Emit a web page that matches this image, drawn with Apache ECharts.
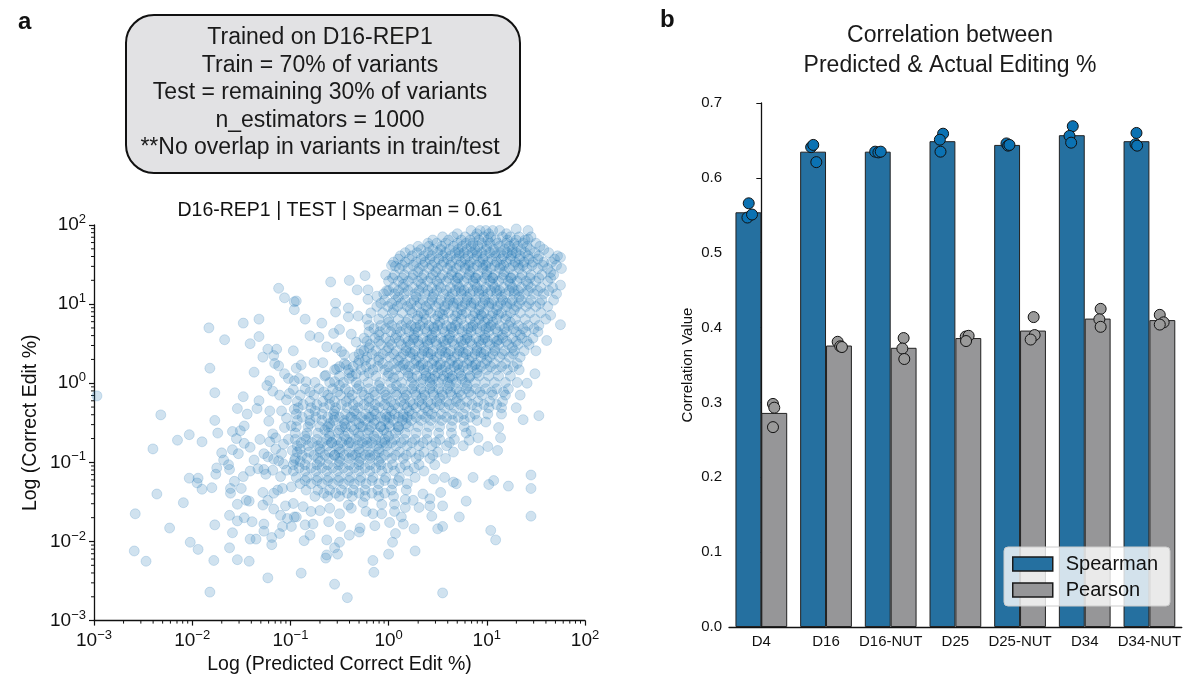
<!DOCTYPE html>
<html lang="en">
<head>
  <meta charset="UTF-8">
  <title>Edit prediction</title>
  <script src="https://cdn.jsdelivr.net/npm/echarts@6/dist/echarts.min.js"></script>
</head>
<body style="margin:0;background:#fff">
  <div id="chart" style="width: 1184px;height: 680px;"></div>
  <script>
    const myEcharts = echarts.init(document.getElementById('chart'))
    const FONT = 'Liberation Sans, Arial, Helvetica, sans-serif'

    // ---- panel a : log10(predicted), log10(actual) ----
    // dense cloud, one row per log10(actual) level: [ly, lx, lx, ...]
    const cloudRows = [
      [1.93, 0.84, 0.93, 0.99, 1.06, 1.13, 1.42],
      [1.85, 0.55, 0.66, 0.78, 0.88, 0.97, 1.04, 1.16, 1.24, 1.33, 1.45],
      [1.77, 0.40, 0.49, 0.58, 0.70, 0.79, 0.86, 0.95, 1.03, 1.11, 1.20, 1.28, 1.37, 1.50],
      [1.69, 0.22, 0.33, 0.45, 0.53, 0.62, 0.71, 0.80, 0.88, 0.99, 1.07, 1.18, 1.26, 1.35, 1.44, 1.58],
      [1.61, 0.12, 0.24, 0.36, 0.44, 0.55, 0.63, 0.72, 0.81, 0.90, 0.98, 1.09, 1.17, 1.25, 1.34, 1.42, 1.53, 1.72],
      [1.53, 0.05, 0.17, 0.28, 0.37, 0.47, 0.56, 0.64, 0.74, 0.83, 0.93, 1.01, 1.10, 1.20, 1.29, 1.38, 1.47, 1.58, 1.66],
      [1.45, 0.11, 0.20, 0.31, 0.41, 0.50, 0.60, 0.69, 0.78, 0.86, 0.96, 1.04, 1.13, 1.23, 1.33, 1.41, 1.52, 1.62, 1.76],
      [1.37, 0.06, 0.16, 0.25, 0.36, 0.45, 0.55, 0.64, 0.73, 0.82, 0.91, 1.00, 1.08, 1.17, 1.27, 1.36, 1.45, 1.56, 1.68],
      [1.29, 0.00, 0.10, 0.20, 0.30, 0.40, 0.49, 0.59, 0.68, 0.77, 0.86, 0.95, 1.03, 1.12, 1.22, 1.31, 1.40, 1.50, 1.62],
      [1.21, 0.05, 0.15, 0.25, 0.35, 0.44, 0.53, 0.63, 0.72, 0.81, 0.90, 0.99, 1.08, 1.17, 1.26, 1.35, 1.45, 1.55, 1.67],
      [1.13, -0.05, 0.06, 0.16, 0.27, 0.37, 0.46, 0.56, 0.65, 0.74, 0.83, 0.92, 1.01, 1.10, 1.19, 1.28, 1.38, 1.48, 1.58, 1.71],
      [1.05, -0.04, 0.07, 0.17, 0.26, 0.35, 0.44, 0.53, 0.62, 0.71, 0.80, 0.89, 0.98, 1.07, 1.16, 1.26, 1.35, 1.45, 1.56, 1.68],
      [0.97, -0.12, -0.01, 0.09, 0.19, 0.29, 0.38, 0.48, 0.57, 0.66, 0.75, 0.84, 0.93, 1.02, 1.11, 1.20, 1.30, 1.40, 1.50, 1.62],
      [0.89, -0.18, -0.06, 0.04, 0.14, 0.24, 0.33, 0.43, 0.52, 0.61, 0.70, 0.79, 0.88, 0.97, 1.06, 1.15, 1.24, 1.34, 1.44, 1.55],
      [0.81, -0.22, -0.10, 0.00, 0.10, 0.20, 0.29, 0.38, 0.47, 0.56, 0.65, 0.74, 0.83, 0.92, 1.01, 1.10, 1.19, 1.29, 1.39, 1.49, 1.60],
      [0.73, -0.20, -0.08, 0.03, 0.13, 0.23, 0.32, 0.41, 0.50, 0.59, 0.68, 0.77, 0.86, 0.95, 1.04, 1.13, 1.22, 1.32, 1.42, 1.53],
      [0.65, -0.20, -0.09, 0.02, 0.12, 0.21, 0.30, 0.39, 0.48, 0.57, 0.66, 0.75, 0.84, 0.93, 1.02, 1.11, 1.20, 1.30, 1.40, 1.52],
      [0.57, -0.25, -0.14, -0.03, 0.07, 0.17, 0.26, 0.35, 0.44, 0.53, 0.62, 0.71, 0.80, 0.89, 0.98, 1.07, 1.16, 1.26, 1.36, 1.47],
      [0.49, -0.19, -0.08, 0.03, 0.13, 0.22, 0.31, 0.40, 0.49, 0.58, 0.67, 0.76, 0.85, 0.94, 1.03, 1.12, 1.22, 1.32, 1.43],
      [0.41, -0.25, -0.13, -0.02, 0.08, 0.18, 0.27, 0.36, 0.45, 0.54, 0.63, 0.72, 0.81, 0.90, 0.99, 1.08, 1.18, 1.28, 1.38, 1.50],
      [0.33, -0.35, -0.22, -0.10, 0.01, 0.12, 0.22, 0.31, 0.40, 0.49, 0.58, 0.67, 0.76, 0.85, 0.94, 1.03, 1.13, 1.23, 1.34],
      [0.25, -0.45, -0.31, -0.18, -0.06, 0.05, 0.16, 0.26, 0.35, 0.44, 0.53, 0.62, 0.71, 0.80, 0.89, 0.98, 1.08, 1.19, 1.31],
      [0.17, -0.55, -0.41, -0.28, -0.16, -0.04, 0.07, 0.17, 0.27, 0.36, 0.45, 0.54, 0.63, 0.72, 0.81, 0.90, 1.00, 1.10, 1.21, 1.33],
      [0.09, -0.65, -0.50, -0.37, -0.25, -0.13, -0.01, 0.10, 0.20, 0.29, 0.38, 0.47, 0.56, 0.65, 0.74, 0.83, 0.92, 1.02, 1.12, 1.24],
      [0.01, -0.75, -0.60, -0.46, -0.33, -0.21, -0.09, 0.02, 0.13, 0.23, 0.33, 0.42, 0.51, 0.60, 0.69, 0.78, 0.88, 0.98, 1.08, 1.19, 1.31],
      [-0.07, -0.85, -0.71, -0.57, -0.44, -0.32, -0.20, -0.08, 0.03, 0.14, 0.24, 0.33, 0.42, 0.51, 0.60, 0.69, 0.79, 0.89, 0.99, 1.10, 1.22],
      [-0.15, -0.90, -0.76, -0.62, -0.49, -0.37, -0.25, -0.14, -0.03, 0.08, 0.18, 0.28, 0.37, 0.46, 0.55, 0.64, 0.74, 0.84, 0.95, 1.06, 1.19, 1.34],
      [-0.23, -0.93, -0.80, -0.67, -0.55, -0.43, -0.31, -0.20, -0.09, 0.02, 0.12, 0.22, 0.31, 0.40, 0.49, 0.59, 0.69, 0.80, 0.91, 1.03, 1.16],
      [-0.31, -0.92, -0.79, -0.66, -0.54, -0.42, -0.31, -0.20, -0.10, 0.00, 0.10, 0.19, 0.28, 0.37, 0.47, 0.57, 0.67, 0.78, 0.90, 1.02, 1.15, 1.30],
      [-0.39, -0.94, -0.81, -0.68, -0.56, -0.44, -0.33, -0.23, -0.13, -0.03, 0.06, 0.15, 0.24, 0.34, 0.44, 0.54, 0.65, 0.76, 0.88, 1.01, 1.15],
      [-0.47, -0.93, -0.80, -0.68, -0.56, -0.45, -0.34, -0.24, -0.14, -0.04, 0.05, 0.14, 0.23, 0.33, 0.43, 0.54, 0.65, 0.77, 0.90],
      [-0.55, -0.94, -0.82, -0.70, -0.59, -0.48, -0.38, -0.28, -0.18, -0.08, 0.01, 0.10, 0.20, 0.30, 0.41, 0.52, 0.64, 0.77],
      [-0.63, -0.95, -0.83, -0.72, -0.61, -0.51, -0.41, -0.31, -0.21, -0.11, -0.02, 0.07, 0.17, 0.28, 0.39, 0.51, 0.64, 0.79],
      [-0.71, -0.95, -0.84, -0.73, -0.63, -0.53, -0.43, -0.33, -0.23, -0.13, -0.04, 0.06, 0.16, 0.27, 0.39, 0.52, 0.67],
      [-0.79, -0.93, -0.82, -0.72, -0.62, -0.52, -0.42, -0.32, -0.22, -0.12, -0.02, 0.08, 0.19, 0.31, 0.44, 0.59, 0.76],
      [-0.87, -0.93, -0.81, -0.70, -0.60, -0.50, -0.40, -0.30, -0.20, -0.10, 0.00, 0.11, 0.23, 0.36, 0.50, 0.66],
      [-0.95, -0.95, -0.83, -0.72, -0.61, -0.50, -0.40, -0.29, -0.19, -0.08, 0.03, 0.15, 0.28, 0.42, 0.58],
      [-1.03, -0.97, -0.85, -0.73, -0.62, -0.51, -0.40, -0.30, -0.19, -0.08, 0.04, 0.17, 0.31, 0.47],
      [-1.11, -0.97, -0.85, -0.74, -0.63, -0.52, -0.41, -0.30, -0.19, -0.07, 0.06, 0.20, 0.36],
      [-1.19, -0.94, -0.83, -0.72, -0.61, -0.50, -0.39, -0.28, -0.16, -0.03, 0.11, 0.27],
      [-1.27, -0.90, -0.79, -0.68, -0.57, -0.46, -0.35, -0.23, -0.10, 0.04, 0.19],
      [-1.35, -0.84, -0.72, -0.60, -0.48, -0.36, -0.24, -0.11, 0.03, 0.18],
      [-1.43, -0.75, -0.62, -0.50, -0.37, -0.24, -0.10, 0.05]
    ]
    // in-between rows, placed off the main rows
    const fillRows = [
      [1.89, 0.70, 0.90, 1.02, 1.20],
      [1.81, 0.45, 0.61, 0.74, 0.83, 0.92, 1.01, 1.09, 1.21, 1.30, 1.39],
      [1.73, 0.30, 0.41, 0.54, 0.66, 0.75, 0.84, 0.91, 1.00, 1.13, 1.23, 1.31, 1.41, 1.54],
      [1.65, 0.17, 0.29, 0.40, 0.50, 0.58, 0.68, 0.77, 0.85, 0.95, 1.03, 1.14, 1.21, 1.30, 1.39, 1.49, 1.63],
      [1.57, 0.10, 0.21, 0.33, 0.42, 0.51, 0.60, 0.69, 0.78, 0.87, 0.96, 1.05, 1.15, 1.24, 1.33, 1.43, 1.52, 1.69],
      [1.49, 0.03, 0.14, 0.25, 0.35, 0.44, 0.54, 0.63, 0.72, 0.82, 0.90, 0.99, 1.08, 1.17, 1.27, 1.37, 1.46, 1.57, 1.71],
      [1.33, 0.04, 0.14, 0.24, 0.34, 0.43, 0.53, 0.61, 0.71, 0.80, 0.89, 0.98, 1.06, 1.16, 1.25, 1.34, 1.44, 1.53, 1.65],
      [1.17, 0.00, 0.10, 0.20, 0.31, 0.40, 0.49, 0.59, 0.68, 0.77, 0.86, 0.96, 1.04, 1.13, 1.23, 1.32, 1.42, 1.52, 1.63],
      [1.01, -0.08, 0.03, 0.13, 0.23, 0.32, 0.42, 0.51, 0.60, 0.70, 0.78, 0.87, 0.96, 1.05, 1.14, 1.24, 1.33, 1.43, 1.54],
      [0.69, -0.15, -0.03, 0.08, 0.18, 0.27, 0.37, 0.46, 0.55, 0.64, 0.72, 0.81, 0.90, 0.99, 1.09, 1.18, 1.27, 1.37, 1.48],
      [0.53, -0.22, -0.10, 0.01, 0.11, 0.20, 0.30, 0.39, 0.48, 0.56, 0.65, 0.74, 0.83, 0.92, 1.01, 1.10, 1.20, 1.30, 1.41],
      [0.37, -0.30, -0.17, -0.06, 0.05, 0.15, 0.25, 0.34, 0.43, 0.52, 0.61, 0.70, 0.79, 0.88, 0.97, 1.06, 1.16, 1.27],
      [0.21, -0.50, -0.36, -0.23, -0.11, 0.00, 0.11, 0.21, 0.31, 0.40, 0.49, 0.58, 0.67, 0.76, 0.85, 0.94, 1.04, 1.15, 1.27],
      [-0.11, -0.80, -0.66, -0.52, -0.40, -0.27, -0.15, -0.04, 0.07, 0.17, 0.27, 0.36, 0.45, 0.54, 0.63, 0.72, 0.82, 0.93, 1.05, 1.17],
      [-0.27, -0.87, -0.73, -0.60, -0.48, -0.36, -0.25, -0.14, -0.04, 0.06, 0.16, 0.25, 0.34, 0.43, 0.52, 0.62, 0.73, 0.85, 0.97, 1.10],
      [-0.43, -0.88, -0.74, -0.62, -0.50, -0.39, -0.28, -0.18, -0.08, 0.01, 0.10, 0.19, 0.28, 0.38, 0.48, 0.59, 0.71, 0.83],
      [-0.75, -0.89, -0.78, -0.68, -0.58, -0.48, -0.38, -0.27, -0.17, -0.07, 0.03, 0.13, 0.24, 0.35, 0.48, 0.62],
      [-0.91, -0.88, -0.76, -0.65, -0.55, -0.45, -0.34, -0.24, -0.14, -0.04, 0.07, 0.18, 0.31, 0.45],
      [-1.07, -0.91, -0.79, -0.68, -0.57, -0.46, -0.35, -0.24, -0.13, -0.01, 0.12, 0.26],
      [-1.23, -0.85, -0.73, -0.62, -0.51, -0.40, -0.29, -0.17, -0.04, 0.10],
      [-1.39, -0.66, -0.54, -0.42, -0.30, -0.17, -0.04]
    ]
    // extra overlapping points where the cloud is darkest
    const coreRows = [
      [1.41, 0.30, 0.48, 0.65, 0.83, 1.00, 1.18],
      [1.25, 0.15, 0.33, 0.51, 0.70, 0.88, 1.06, 1.24, 1.42],
      [1.09, 0.10, 0.28, 0.45, 0.62, 0.80, 0.97, 1.15, 1.33],
      [0.93, 0.05, 0.22, 0.40, 0.57, 0.74, 0.92, 1.10, 1.28],
      [0.85, 0.30, 0.50, 0.68, 0.86, 0.95, 1.05, 1.20],
      [0.77, 0.00, 0.18, 0.35, 0.52, 0.70, 0.88, 0.98, 1.06, 1.24],
      [0.61, -0.10, 0.08, 0.26, 0.44, 0.62, 0.80, 0.98, 1.16, 1.34],
      [0.45, -0.20, 0.00, 0.18, 0.36, 0.54, 0.72, 0.90, 1.08, 1.26],
      [0.29, -0.30, -0.10, 0.10, 0.28, 0.46, 0.64, 0.82, 1.00],
      [0.13, -0.40, -0.20, 0.00, 0.20, 0.38, 0.50, 0.60, 0.72, 0.90],
      [0.05, 0.35, 0.45, 0.55, 0.65, 0.75],
      [-0.03, -0.50, -0.30, -0.10, 0.08, 0.26, 0.44, 0.62, 0.80],
      [-0.19, -0.60, -0.40, -0.20, -0.02, 0.16, 0.34, 0.52, 0.70],
      [-0.35, -0.75, -0.55, -0.35, -0.15, 0.03, 0.21, 0.40],
      [-0.51, -0.80, -0.60, -0.45, -0.30, -0.15, 0.00, 0.18],
      [-0.59, -0.65, -0.50, -0.35, -0.20, -0.05, 0.10],
      [-0.67, -0.85, -0.60, -0.45, -0.30, -0.15, 0.00],
      [-0.83, -0.90, -0.70, -0.50, -0.30, -0.10],
      [-0.99, -0.90, -0.70, -0.50, -0.30, -0.10],
      [0.87, 0.36, 0.55, 0.75, 0.94, 1.12],
      [0.71, 0.28, 0.46, 0.64, 0.84, 1.02],
      [0.55, 0.25, 0.42, 0.60, 0.78, 0.96, 1.12],
      [0.39, 0.22, 0.40, 0.58, 0.76, 0.94],
      [0.23, 0.15, 0.33, 0.52, 0.70, 0.88],
      [0.07, 0.05, 0.24, 0.42, 0.62, 0.82],
      [-0.43, -0.55, -0.38, -0.20, -0.02, 0.15],
      [-0.55, -0.62, -0.44, -0.26, -0.08, 0.10],
      [-0.75, -0.58, -0.40, -0.22, -0.04],
      [-0.91, -0.55, -0.37, -0.19],
      [1.65, 0.72, 0.90, 1.08, 1.26],
      [1.49, 0.78, 0.96, 1.14, 1.32],
      [1.33, 0.70, 0.88, 1.06, 1.24],
      [1.17, 0.74, 0.92, 1.10, 1.28],
      [1.01, 0.66, 0.84, 1.02, 1.20]
    ]
    // scattered points around the cloud: [lx, ly]
    const sparsePts = [
      [-2.97, -0.16], [-2.32, -0.40], [-1.83, 0.70], [-1.48, 0.76], [-1.32, 0.81], [-1.67, 0.55], [-1.32, 0.59],
      [-1.41, 0.50], [-1.12, 1.20], [-1.06, 1.08], [-0.96, 1.03], [-0.96, 0.93], [-1.82, 0.19], [-1.77, -0.12],
      [-1.48, -0.17], [-1.37, 0.14], [-1.28, 0.33], [-1.23, 0.43], [-1.14, 0.43], [-1.17, 0.35], [-1.16, 0.25],
      [-1.12, 0.22], [-0.97, 0.41], [-1.06, 0.12], [-1.02, 0.06], [-0.96, 0.03], [-1.21, 0.03], [-1.24, -0.03],
      [-1.18, -0.10], [-1.11, -0.15], [-1.04, -0.21], [-1.01, -0.13], [-0.97, -0.08], [-0.94, 0.19], [-1.32, -0.22],
      [-1.34, -0.32], [-1.44, -0.39], [-1.54, -0.32], [-1.21, -0.35], [-1.09, -0.35], [-0.96, -0.33], [-1.04, -0.44],
      [-1.77, -0.47],
      [-2.40, -0.83], [-2.15, -0.72], [-2.03, -0.65], [-1.90, -0.74], [-1.74, -0.63], [-1.59, -0.61], [-1.51, -0.60],
      [-1.47, -0.54], [-1.55, -0.70], [-1.47, -0.76], [-1.41, -0.81], [-1.59, -0.84], [-1.70, -0.88], [-1.53, -0.89],
      [-1.68, -0.97], [-1.63, -1.03], [-1.75, -1.07], [-1.62, -1.09], [-1.76, -1.15], [-1.37, -0.97], [-1.31, -0.71],
      [-1.21, -0.74], [-1.18, -0.64], [-1.15, -0.69], [-1.22, -0.48], [-1.33, -1.08], [-1.27, -1.09], [-1.25, -1.15],
      [-1.18, -1.10], [-1.23, -0.93], [-1.27, -0.89], [-1.17, -0.96], [-1.12, -0.98], [-1.09, -0.89], [-1.07, -1.02],
      [-1.04, -1.10], [-1.10, -1.18], [-0.98, -0.85], [-0.96, -0.98], [-1.15, -0.83], [-1.07, -0.77], [-1.02, -0.71],
      [-1.06, -0.56], [-0.99, -0.54], [-2.03, -1.20], [-1.94, -1.20], [-1.95, -1.26], [-1.90, -1.34], [-1.80, -1.32],
      [-2.36, -1.40], [-2.09, -1.51], [-2.58, -1.65], [-2.23, -1.83], [-2.59, -2.12], [-2.47, -2.25], [-2.02, -2.01],
      [-1.94, -2.10], [-1.78, -2.24], [-1.82, -2.64], [-1.77, -1.79], [-1.62, -2.08], [-1.59, -1.89], [-1.62, -1.67],
      [-1.54, -1.74], [-1.47, -1.70], [-1.39, -1.75], [-1.54, -1.53], [-1.45, -1.48], [-1.42, -1.49], [-1.61, -1.39],
      [-1.61, -1.33], [-1.50, -1.33], [-1.57, -1.24], [-1.48, -1.18], [-1.41, -1.11], [-1.54, -2.23], [-1.42, -2.25],
      [-1.41, -1.97], [-1.35, -1.97], [-1.27, -1.78], [-1.27, -1.87], [-1.19, -2.04], [-1.19, -1.95], [-1.11, -1.90],
      [-1.08, -1.81], [-1.23, -2.46], [-1.28, -1.38], [-1.28, -1.54], [-1.23, -1.48], [-1.17, -1.59], [-1.10, -1.67],
      [-1.03, -1.71], [-0.99, -1.81], [-1.13, -1.35], [-1.08, -1.33], [-0.99, -1.31], [-1.05, -1.55], [-0.97, -1.52],
      [-0.96, -1.69], [-1.17, -1.39],
      [-0.89, -2.40], [-0.55, -2.54], [-0.42, -2.71], [-0.64, -2.21], [-0.63, -2.17], [-0.52, -2.16], [-0.55, -2.08],
      [-0.50, -2.01], [-0.63, -1.98], [-0.86, -1.99], [-0.80, -1.92], [-0.16, -2.24], [-0.15, -2.39], [0.00, -2.16],
      [0.04, -2.01], [0.27, -2.12], [0.07, -1.90], [0.26, -1.84], [0.55, -2.65], [0.50, -1.84], [0.55, -1.81],
      [0.72, -1.69], [0.79, -1.49], [1.04, -1.86], [1.09, -1.98], [0.86, -1.19], [1.02, -1.28], [1.07, -1.23],
      [1.22, -1.30], [-0.40, -1.92], [-0.29, -1.83], [-0.30, -1.88], [-0.49, -1.81], [-0.14, -1.80], [0.01, -1.76],
      [0.15, -1.78], [0.13, -1.69], [-0.61, -1.75], [-0.77, -1.78], [-0.85, -1.79], [0.44, -1.68], [0.55, -1.55],
      [0.42, -1.55], [0.31, -1.57], [0.17, -1.57], [0.06, -1.62], [-0.07, -1.65], [-0.16, -1.65], [-0.23, -1.62],
      [-0.38, -1.58], [-0.50, -1.65], [-0.60, -1.58], [-0.70, -1.61], [-0.79, -1.62], [-0.94, -1.69], [0.66, -1.25],
      [0.69, -1.27], [0.53, -1.38], [0.42, -1.46], [0.35, -1.40], [0.46, -1.21], [0.57, -1.19], [0.25, -1.48],
      [0.17, -1.47], [0.06, -1.53], [-0.07, -1.53], [-0.26, -1.51], [-0.41, -1.54], [-0.87, -1.56], [1.11, -0.85],
      [1.14, -0.69], [1.12, -0.56], [0.99, -0.49], [0.92, -0.85], [1.01, -0.80], [0.84, -0.60], [0.82, -0.72],
      [0.91, -0.69],
      [-0.59, 1.28], [-0.40, 1.30], [-0.24, 1.36], [-0.32, 1.18], [-0.21, 1.18], [-0.94, 1.04], [-0.85, 0.81],
      [-0.68, 0.76], [-0.54, 1.01], [-0.54, 0.90], [-0.41, 0.95], [-0.41, 0.84], [-0.80, 0.60], [-0.71, 0.58],
      [-0.56, 0.63], [-0.50, 0.68], [-0.03, 1.37], [0.07, 1.48], [-0.02, 1.17], [-0.12, 1.10], [-0.21, 1.06],
      [-0.31, 0.85], [-0.63, 0.46], [-0.53, 0.45], [-0.48, 0.40], [-0.45, 0.36], [-0.76, 0.26], [-0.67, 0.26],
      [-0.64, 0.10], [-0.53, 0.18], [-0.43, 0.23], [-0.89, 0.23], [-0.91, 0.06], [-0.84, 0.02], [-0.55, 0.02],
      [-0.40, 0.06], [-0.33, 0.12], [-0.24, 0.29], [-0.28, 0.42], [-0.33, 0.52], [-0.38, 0.62],
      [1.75, 1.59], [1.65, 1.40], [1.75, 1.24], [1.65, 0.86], [1.75, 0.74], [1.61, 0.54], [1.49, 0.12],
      [1.41, 0.00], [1.53, -0.41], [1.37, -0.46], [1.30, 1.95], [1.42, 1.82], [1.45, -1.16], [1.45, -1.33], [1.45, -1.68]
    ]

    // ---- panel b ----
    const categories = ['D4', 'D16', 'D16-NUT', 'D25', 'D25-NUT', 'D34', 'D34-NUT']
    const spearmanMean = [0.554, 0.635, 0.635, 0.649, 0.644, 0.657, 0.649]
    const pearsonMean = [0.286, 0.376, 0.373, 0.386, 0.396, 0.412, 0.410]
    const spearmanReps = [[0.566, 0.547, 0.551], [0.641, 0.644, 0.621], [0.635, 0.634, 0.635], [0.659, 0.651, 0.635],
      [0.646, 0.643, 0.644], [0.669, 0.656, 0.647], [0.660, 0.645, 0.643]]
    const pearsonReps = [[0.298, 0.293, 0.267], [0.381, 0.375, 0.374], [0.386, 0.372, 0.358], [0.388, 0.389, 0.382],
      [0.414, 0.390, 0.384], [0.425, 0.411, 0.401], [0.417, 0.407, 0.404]]
    // horizontal strip jitter, in category widths
    const spearmanJitter = [[0.005, -0.015, 0.056], [-0.03, 0.003, 0.05], [-0.04, 0.01, 0.046], [0.01, -0.04, -0.03],
      [-0.01, 0.015, 0.036], [0.015, -0.036, -0.01], [0, -0.015, 0.01]]
    const pearsonJitter = [[-0.02, 0, -0.02], [-0.02, 0.02, 0.046], [0, -0.02, 0.01], [-0.04, 0.005, -0.035],
      [0.01, 0.026, -0.036], [0.046, 0.026, 0.046], [-0.04, 0.02, -0.04]]

    // build points
    const cloudData = []
    cloudRows.concat(fillRows, coreRows).forEach(row => {
      for (let i = 1; i < row.length; i++) cloudData.push([Math.pow(10, row[i]), Math.pow(10, row[0])])
    })
    sparsePts.forEach(p => cloudData.push([Math.pow(10, p[0]), Math.pow(10, p[1])]))

    const spearmanDots = []
    const pearsonDots = []
    categories.forEach((c, i) => {
      spearmanReps[i].forEach((v, k) => spearmanDots.push([i - 0.2 + spearmanJitter[i][k], v]))
      pearsonReps[i].forEach((v, k) => pearsonDots.push([i + 0.2 + pearsonJitter[i][k], v]))
    })

    // matplotlib style minor ticks on the log axes
    const minorTicks = []
    for (let d = -3; d < 2; d++) for (let k = 2; k <= 9; k++) minorTicks.push(k * Math.pow(10, d))

    function expLabel(v) {
      const e = Math.round(Math.log10(v))
      return '{b|10}{s|' + (e < 0 ? '\u2212' + (-e) : e) + '}'
    }
    const expRich = {
      b: { fontSize: 19, fontFamily: FONT, color: '#111', lineHeight: 24 },
      s: { fontSize: 13, fontFamily: FONT, color: '#111', lineHeight: 14, verticalAlign: 'top' }
    }

    const option = {
      animation: false,
      textStyle: { fontFamily: FONT },
      grid: [
        { left: 94, right: 599, top: 225, bottom: 56 },
        { left: 729, right: 1, top: 103, bottom: 53 }
      ],
      legend: {
        data: ['Spearman', 'Pearson'],
        orient: 'vertical',
        left: 1004, top: 547,
        padding: [7, 12, 6, 8],
        itemWidth: 40, itemHeight: 14, itemGap: 6,
        icon: 'rect',
        selectedMode: false,
        backgroundColor: 'rgba(255,255,255,0.8)',
        borderColor: '#cccccc', borderWidth: 1, borderRadius: 4,
        itemStyle: { borderColor: '#1a1a1a', borderWidth: 1.5 },
        textStyle: { fontSize: 20, color: '#111', fontFamily: FONT, padding: [0, 0, 0, 8] }
      },
      xAxis: [
        {
          type: 'log', logBase: 10, gridIndex: 0, min: 0.001, max: 100,
          name: 'Log (Predicted Correct Edit %)', nameLocation: 'middle', nameGap: 34,
          nameTextStyle: { fontSize: 19.5, color: '#111', fontFamily: FONT },
          axisLine: { lineStyle: { color: '#111', width: 1.3 } },
          axisTick: { length: 5, lineStyle: { color: '#111', width: 1.2 } },
          axisLabel: { formatter: expLabel, rich: expRich, margin: 8 },
          splitLine: { show: false }
        },
        {
          type: 'category', gridIndex: 1, data: categories,
          axisLine: { lineStyle: { color: '#111', width: 1.3 } },
          axisTick: { alignWithLabel: true, length: 5, lineStyle: { color: '#111' } },
          axisLabel: { interval: 0, fontSize: 15, color: '#111', margin: 7, fontFamily: FONT }
        },
        { type: 'value', gridIndex: 1, min: -0.5, max: 6.5, show: false }
      ],
      yAxis: [
        {
          type: 'log', logBase: 10, gridIndex: 0, min: 0.001, max: 100,
          name: 'Log (Correct Edit %)', nameLocation: 'middle', nameGap: 53,
          nameTextStyle: { fontSize: 19.5, color: '#111', fontFamily: FONT },
          axisLine: { show: true, lineStyle: { color: '#111', width: 1.3 } },
          axisTick: { show: true, length: 5, lineStyle: { color: '#111', width: 1.2 } },
          axisLabel: { formatter: expLabel, rich: expRich, margin: 8 },
          splitLine: { show: false }
        },
        {
          type: 'value', gridIndex: 1, min: 0, max: 0.7, interval: 0.1,
          name: 'Correlation Value', nameLocation: 'middle', nameGap: 34,
          nameTextStyle: { fontSize: 15, color: '#111', fontFamily: FONT },
          axisLine: { show: true, lineStyle: { color: '#111', width: 1.3 } },
          axisTick: { show: true, length: 5, lineStyle: { color: '#111' } },
          axisLabel: { fontSize: 15, color: '#111', margin: 7, formatter: v => v.toFixed(1), fontFamily: FONT },
          splitLine: { show: false }
        }
      ],
      graphic: [
        { type: 'text', style: { text: 'a', x: 18, y: 22, fill: '#111', font: 'bold 24px ' + FONT, align: 'left', verticalAlign: 'middle' } },
        { type: 'text', style: { text: 'b', x: 660, y: 20, fill: '#111', font: 'bold 24px ' + FONT, align: 'left', verticalAlign: 'middle' } },
        {
          type: 'rect', shape: { x: 126, y: 15, width: 394, height: 158, r: 28 },
          style: { fill: '#e2e2e4', stroke: '#111', lineWidth: 2 }
        },
        {
          type: 'text', style: {
            text: 'Trained on D16-REP1\nTrain = 70% of variants\nTest = remaining 30% of variants\nn_estimators = 1000\n**No overlap in variants in train/test',
            x: 320, y: 93, fill: '#1a1a1a', font: '23px ' + FONT, lineHeight: 27.5, align: 'center', verticalAlign: 'middle'
          }
        },
        {
          type: 'text', style: {
            text: 'D16-REP1 | TEST | Spearman = 0.61', x: 340, y: 211, fill: '#111',
            font: '19.5px ' + FONT, align: 'center', verticalAlign: 'middle'
          }
        },
        {
          type: 'text', style: {
            text: 'Correlation between\nPredicted & Actual Editing %', x: 950, y: 51, fill: '#1a1a1a',
            font: '23px ' + FONT, lineHeight: 30, align: 'center', verticalAlign: 'middle'
          }
        }
      ],
      series: [
        {
          type: 'scatter', xAxisIndex: 0, yAxisIndex: 0, data: cloudData, symbolSize: 10,
          itemStyle: { color: 'rgba(31,119,180,0.21)', borderColor: 'rgba(31,119,180,0.24)', borderWidth: 0.8, opacity: 1 },
          emphasis: { disabled: true }, silent: true
        },
        {
          type: 'custom', xAxisIndex: 0, yAxisIndex: 0, silent: true,
          data: minorTicks,
          renderItem(params, api) {
            const p = api.coord([api.value(0), 0.001])
            return { type: 'line', shape: { x1: p[0], y1: p[1], x2: p[0], y2: p[1] + 3 }, style: { stroke: '#111', lineWidth: 1 } }
          }
        },
        {
          type: 'custom', xAxisIndex: 0, yAxisIndex: 0, silent: true,
          data: minorTicks,
          renderItem(params, api) {
            const p = api.coord([0.001, api.value(0)])
            return { type: 'line', shape: { x1: p[0] - 3, y1: p[1], x2: p[0], y2: p[1] }, style: { stroke: '#111', lineWidth: 1 } }
          }
        },
        {
          name: 'Spearman', type: 'bar', xAxisIndex: 1, yAxisIndex: 1, data: spearmanMean,
          barGap: '0%', barCategoryGap: '20%',
          itemStyle: { color: '#2570a0', borderColor: '#222', borderWidth: 1 }
        },
        {
          name: 'Pearson', type: 'bar', xAxisIndex: 1, yAxisIndex: 1, data: pearsonMean,
          itemStyle: { color: '#969698', borderColor: '#222', borderWidth: 1 }
        },
        {
          type: 'scatter', xAxisIndex: 2, yAxisIndex: 1, data: spearmanDots, symbolSize: 11,
          itemStyle: { color: '#0b72b3', borderColor: '#111', borderWidth: 1, opacity: 1 }
        },
        {
          type: 'scatter', xAxisIndex: 2, yAxisIndex: 1, data: pearsonDots, symbolSize: 11,
          itemStyle: { color: '#9a9a9a', borderColor: '#111', borderWidth: 1, opacity: 1 }
        }
      ]
    }

    myEcharts.setOption(option)
  </script>
</body>
</html>
